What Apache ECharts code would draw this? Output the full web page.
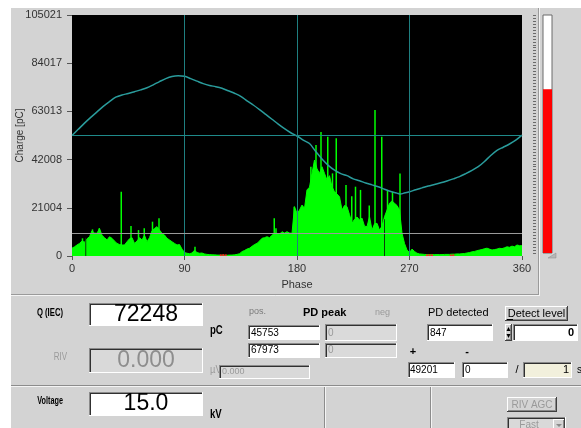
<!DOCTYPE html>
<html>
<head>
<meta charset="utf-8">
<script src="https://cdn.jsdelivr.net/npm/echarts@6/dist/echarts.min.js"></script>
<style>
html, body { margin: 0; padding: 0; background: #ffffff; }
#c { width: 581px; height: 428px; }
</style>
</head>
<body>
<div id="c"></div>
<script>
// Phase-resolved PD pattern: maximum charge per 2° phase bin (pC)
const phaseStep = 2;
const pdEnvelope = [
  3400, 4000, 4800, 5500, 6500, 6000, 7500, 8400, 11000, 10000,
  9900, 12000, 9000, 8000, 7000, 8400, 7700, 6500, 5500, 5000,
  4800, 4800, 6200, 7500, 8000, 5500, 6500, 8000, 7000, 9000,
  6200, 8000, 11000, 12000, 12800, 11300, 9900, 9150, 7700, 7000,
  6200, 5500, 4800, 5000, 3000, 1500, 1200, 1000, 1300, 2500,
  1500, 1200, 1300, 900, 700, 600, 500, 500, 400, 400,
  300, 300, 300, 400, 400, 500, 700, 1000, 1900, 2400,
  3000, 3400, 4200, 5000, 5500, 6500, 7700, 8000, 8400, 8000,
  9000, 10000, 9900, 9500, 10600, 10000, 10600, 10000, 9900, 21500,
  18600, 20000, 22200, 20800, 28800, 30000, 36000, 41800, 38000, 36000,
  38900, 36000, 33100, 35000, 30200, 28000, 27000, 25800, 20000, 22000,
  21500, 18000, 14250, 16000, 17000, 15700, 16500, 13000, 12800, 17100,
  11300, 14000, 14250, 11300, 13000, 17100, 20000, 23000, 24000, 23000,
  22000, 20000, 9900, 5500, 2600, 1500, 3000, 2000, 1200, 900,
  800, 700, 600, 600, 600, 600, 600, 600, 600, 700,
  700, 700, 800, 800, 900, 900, 1000, 1100, 1300, 1500,
  1800, 2000, 2300, 2600, 2800, 3200, 3400, 3000, 2600, 2800,
  3000, 3350, 3200, 3600, 4000, 3800, 4300, 4000, 4800, 4500,
  4500
];
// Single high pulses [phase °, charge pC]
const pdSpikes = [
  [8.6, 7700], [16.6, 11600], [22, 12070], [39.6, 28000], [47.4, 13100],
  [53.4, 11300], [58, 12070], [64.6, 14950], [69.8, 16400], [98.6, 4000],
  [162, 16400], [163.4, 12070], [178, 21500], [188.7, 28800], [191.3, 38900],
  [195.4, 48400], [199.4, 54000], [204.8, 52000], [208.6, 36000], [211.6, 51300],
  [219.4, 30900], [224, 26000], [227, 30200], [231, 28800], [238, 22000],
  [242.6, 63600], [248, 52000], [252.6, 28800], [256.6, 28000], [262.6, 36000]
];
// Negative-polarity pulses
const pdNegative = [
  [119, 700], [121, 800], [123, 700], [284, 700], [286, 800], [288, 700], [303, 600], [305, 700]
];
// Overlapping dark traces
const pdDark = [[11.4, 8000], [250.4, 16000]];

// Reference (test voltage) trace, scaled to the charge axis
const refPhase = [0, 5, 10, 15, 20, 25, 30, 35, 40, 45, 50, 55, 60, 65, 70, 75, 80, 85, 90, 95,
  100, 105, 110, 115, 120, 125, 130, 135, 140, 145, 150, 155, 160, 165, 170, 175, 180, 185, 190, 195,
  200, 205, 210, 215, 220, 225, 230, 235, 240, 245, 250, 255, 260, 263, 265, 270, 275, 280, 285, 290,
  295, 300, 305, 310, 315, 320, 325, 330, 335, 340, 345, 350, 355, 360];
const refCharge = [52500, 55200, 57900, 60400, 62800, 65200, 67300, 69200, 70200, 70800, 71600, 72400, 73300, 74600, 76000, 77300, 78200, 78500, 78300, 77300,
  76200, 75100, 74300, 73800, 73100, 72000, 70900, 69600, 67600, 65800, 63800, 61700, 59600, 57500, 55500, 53700, 52300, 50500, 49000, 45500,
  42300, 39500, 37400, 35900, 35000, 33600, 32800, 31800, 31000, 30200, 29100, 28100, 27400, 27000, 27300, 28000, 28900, 29700, 30500, 31200,
  31900, 32700, 33600, 34600, 35900, 37300, 38900, 41200, 43800, 46000, 47400, 48800, 50500, 52700];

const chargeTicks = [0, 21004, 42008, 63013, 84017, 105021];
const chargeMax = 105021;
const phaseTicks = [0, 90, 180, 270, 360];
const cursorPhases = [90, 180, 270];
const zeroLevel = 52510.5;
const detectLevel = 10000;

// Readouts
const qIec = 72248;
const rivValue = '0.000';
const voltageKv = '15.0';
const posPeaks = ['45753', '67973'];
const negPeaks = ['0', '0'];
const pdDetected = '847';
const detectLevelValue = '0';
const pdPlus = '49201';
const pdMinus = '0';
const pdWindow = '1';

const FONT = '"Liberation Sans", Arial, sans-serif';

function txt(x, y, s, opt, sx) {
  return { type: 'text', x: x, y: y, silent: true, z: 50, scaleX: sx || 1,
    style: Object.assign({ text: s, font: '11px ' + FONT, fill: '#000', align: 'left', verticalAlign: 'middle' }, opt || {}) };
}
function hl(x1, x2, y, c) {
  return { type: 'line', silent: true, z: 50, shape: { x1: x1, y1: y, x2: x2, y2: y }, style: { stroke: c, lineWidth: 1 } };
}
function vl(x, y1, y2, c) {
  return { type: 'line', silent: true, z: 50, shape: { x1: x, y1: y1, x2: x, y2: y2 }, style: { stroke: c, lineWidth: 1 } };
}
function rect(x1, y1, x2, y2, fill) {
  return { type: 'rect', silent: true, z: 49, shape: { x: x1, y: y1, width: x2 - x1, height: y2 - y1 }, style: { fill: fill } };
}
// sunken entry field
function field(x1, y1, x2, y2, fill) {
  return [
    rect(x1, y1, x2, y2, fill),
    hl(x1, x2, y1 + 0.5, '#8a8a8a'), vl(x1 + 0.5, y1, y2, '#8a8a8a'),
    hl(x1 + 1, x2 - 1, y1 + 1.5, '#303030'), vl(x1 + 1.5, y1 + 1, y2 - 1, '#303030'),
    hl(x1, x2, y2 - 0.5, '#ffffff'), vl(x2 - 0.5, y1, y2, '#ffffff')
  ];
}
// raised button
function button(x1, y1, x2, y2) {
  return [
    rect(x1, y1, x2, y2, '#d4d4d4'),
    hl(x1, x2, y1 + 0.5, '#ffffff'), vl(x1 + 0.5, y1, y2, '#ffffff'),
    hl(x1, x2, y2 - 0.5, '#404040'), vl(x2 - 0.5, y1, y2, '#404040'),
    hl(x1 + 1, x2 - 1, y2 - 1.5, '#888888'), vl(x2 - 1.5, y1 + 1, y2 - 1, '#888888')
  ];
}

const ui = [].concat(
  // window margins
  [rect(0, 0, 581, 8, '#ffffff'), rect(0, 0, 11, 428, '#ffffff')],
  // chart panel edges
  [hl(11, 539, 294.5, '#9a9a9a'), hl(11, 540, 295.5, '#f4f4f4'),
   vl(538.5, 8, 295, '#9a9a9a'), vl(539.5, 8, 296, '#f4f4f4')],
  // lower separators
  [hl(11, 581, 385.5, '#8c8c8c'), hl(11, 581, 386.5, '#f4f4f4'),
   vl(324.5, 387, 428, '#8c8c8c'), vl(325.5, 387, 428, '#f4f4f4'),
   vl(430.5, 387, 428, '#8c8c8c'), vl(431.5, 387, 428, '#f4f4f4')],
  // Q (IEC)
  [txt(63, 313, 'Q (IEC)', { font: 'bold 11px ' + FONT, align: 'right' }, 0.7)],
  field(89, 303, 203, 326, '#ffffff'),
  [txt(146, 315, String(qIec), { font: '23px ' + FONT, align: 'center' }),
   txt(210, 331, 'pC', { font: 'bold 12px ' + FONT }, 0.8)],
  // RIV
  [txt(67, 357, 'RIV', { font: '10px ' + FONT, align: 'right', fill: '#9a9a9a' }, 0.8)],
  field(89, 348, 203, 373, '#d9d9d9'),
  [txt(146, 361, rivValue, { font: '23px ' + FONT, align: 'center', fill: '#8e8e8e' }),
   txt(210, 370, 'µV', { font: '11px ' + FONT, fill: '#9a9a9a' }, 0.85)],
  field(219, 365, 310, 379, '#d9d9d9'),
  [txt(222, 372, rivValue, { font: '9px ' + FONT, fill: '#9a9a9a' })],
  // Voltage
  [txt(63, 401, 'Voltage', { font: 'bold 11px ' + FONT, align: 'right' }, 0.66)],
  field(89, 392, 203, 416, '#ffffff'),
  [txt(146, 404, voltageKv, { font: '23px ' + FONT, align: 'center' }),
   txt(210, 415, 'kV', { font: 'bold 12px ' + FONT }, 0.8)],
  // PD peak
  [txt(249, 312, 'pos.', { font: '9px ' + FONT, fill: '#7a7a7a' }),
   txt(303, 313, 'PD peak', { font: 'bold 11px ' + FONT }),
   txt(375, 313, 'neg', { font: '9px ' + FONT, fill: '#9a9a9a' })],
  field(248, 325, 320, 340, '#ffffff'),
  [txt(251, 333, posPeaks[0], { font: '10px ' + FONT })],
  field(248, 343, 320, 358, '#ffffff'),
  [txt(251, 350, posPeaks[1], { font: '10px ' + FONT })],
  field(325, 324, 397, 341, '#dadada'),
  [txt(328, 333, negPeaks[0], { font: '10px ' + FONT, fill: '#9a9a9a' })],
  field(325, 343, 397, 358, '#dadada'),
  [txt(328, 350, negPeaks[1], { font: '10px ' + FONT, fill: '#9a9a9a' })],
  // PD detected
  [txt(428, 313, 'PD detected', { font: '11px ' + FONT })],
  field(427, 324, 493, 341, '#ffffff'),
  [txt(430, 333, pdDetected, { font: '10px ' + FONT })],
  button(505, 306, 568, 321),
  [txt(536.5, 314, 'Detect level', { font: '11px ' + FONT, align: 'center' }),
   hl(507, 513, 319.5, '#000')],
  button(505, 324, 512, 341),
  [{ type: 'polygon', silent: true, z: 51, shape: { points: [[506.5, 331], [510.5, 331], [508.5, 327]] }, style: { fill: '#000' } },
   { type: 'polygon', silent: true, z: 51, shape: { points: [[506.5, 334], [510.5, 334], [508.5, 338]] }, style: { fill: '#000' } }],
  field(513, 324, 578, 341, '#ffffff'),
  [txt(574, 333, detectLevelValue, { font: 'bold 11px ' + FONT, align: 'right' })],
  [txt(413, 352, '+', { font: 'bold 11px ' + FONT, align: 'center' }),
   txt(467, 352, '-', { font: 'bold 11px ' + FONT, align: 'center' })],
  field(408, 362, 455, 378, '#ffffff'),
  [txt(410, 370, pdPlus, { font: '10px ' + FONT })],
  field(462, 362, 508, 378, '#ffffff'),
  [txt(465, 370, pdMinus, { font: '10px ' + FONT })],
  [txt(517, 370, '/', { font: '11px ' + FONT, align: 'center' })],
  field(523, 362, 572, 378, '#f2f0dc'),
  [txt(569, 370, pdWindow, { font: '11px ' + FONT, align: 'right' }),
   txt(577, 370, 's', { font: '10px ' + FONT })],
  // RIV AGC / filter
  button(507, 397, 557, 412),
  [txt(532, 405, 'RIV AGC', { font: '10px ' + FONT, align: 'center', fill: '#9a9a9a' })],
  field(507, 417, 566, 432, '#d9d9d9'),
  button(553, 419, 565, 432),
  [txt(529, 425, 'Fast', { font: '10px ' + FONT, align: 'center', fill: '#9a9a9a' }),
   { type: 'polygon', silent: true, z: 51, shape: { points: [[556, 424], [562, 424], [559, 427]] }, style: { fill: '#8a8a8a' } }],
  // level meter pointer
  [{ type: 'polygon', silent: true, z: 51, shape: { points: [[548, 258], [556, 258], [556, 253]] }, style: { fill: '#b8b8b8', stroke: '#8a8a8a', lineWidth: 0.5 } }]
);

const chart = echarts.init(document.getElementById('c'), null, { renderer: 'canvas' });

chart.setOption({
  animation: false,
  backgroundColor: '#d3d3d3',
  textStyle: { fontFamily: FONT },
  grid: [
    { left: 72, top: 15, width: 450, height: 241, show: true, backgroundColor: '#000000', borderWidth: 0,
      containLabel: false, outerBoundsMode: 'none' },
    { left: 543, top: 15, width: 9, height: 238, show: true, borderColor: '#6a6a6a', borderWidth: 1, backgroundColor: '#ffffff',
      containLabel: false, outerBoundsMode: 'none' }
  ],
  xAxis: [
    {
      gridIndex: 0, type: 'value', min: 0, max: 360, interval: 90,
      name: 'Phase', nameLocation: 'middle', nameGap: 23, nameMoveOverlap: false,
      nameTextStyle: { color: '#333', fontSize: 11, fontFamily: FONT },
      axisLine: { show: false },
      axisTick: { show: true, length: 4, lineStyle: { color: '#555' } },
      axisLabel: { color: '#333', fontSize: 11, margin: 7, fontFamily: FONT },
      splitLine: { show: false }
    },
    { gridIndex: 1, type: 'category', data: ['Q'], show: false }
  ],
  yAxis: [
    {
      gridIndex: 0, type: 'value', min: 0, max: chargeMax,
      name: 'Charge [pC]', nameLocation: 'middle', nameGap: 47, nameMoveOverlap: false,
      nameTextStyle: { color: '#333', fontSize: 10, fontFamily: FONT },
      axisLine: { show: false },
      axisTick: { show: true, length: 5, customValues: chargeTicks, lineStyle: { color: '#555' } },
      axisLabel: { color: '#333', fontSize: 11, margin: 10, customValues: chargeTicks, fontFamily: FONT,
        formatter: function (v) { return String(Math.round(v)); } },
      splitLine: { show: false }
    },
    { gridIndex: 1, type: 'value', min: 0, max: chargeMax, show: false },
    {
      gridIndex: 1, type: 'value', min: 0, max: 100, interval: 1.25, position: 'left', offset: 7,
      axisLine: { show: false },
      axisTick: { show: true, length: 3, lineStyle: { color: '#6a6a6a' } },
      axisLabel: { show: false },
      splitLine: { show: false }
    }
  ],
  series: [
    {
      // cursor and level lines
      type: 'line', xAxisIndex: 0, yAxisIndex: 0, data: [], z: 1, silent: true,
      markLine: {
        silent: true, symbol: 'none', animation: false,
        label: { show: false },
        data: cursorPhases.map(function (p) { return { xAxis: p, lineStyle: { color: '#1f7f80', width: 1, type: 'solid' } }; })
          .concat([
            { yAxis: zeroLevel, lineStyle: { color: '#1f8a8a', width: 1, type: 'solid' } },
            { yAxis: detectLevel, lineStyle: { color: '#9a9a9a', width: 1, type: 'solid' } }
          ])
      }
    },
    {
      name: 'PD', type: 'line', xAxisIndex: 0, yAxisIndex: 0, z: 2, silent: true,
      data: pdEnvelope.map(function (v, i) { return [i * phaseStep, v]; }),
      symbol: 'none', lineStyle: { color: '#00ff00', width: 1 },
      areaStyle: { color: '#00ff00', opacity: 1 }
    },
    {
      name: 'PD pulses', type: 'bar', xAxisIndex: 0, yAxisIndex: 0, z: 3, silent: true,
      data: pdSpikes, barWidth: 1.5, itemStyle: { color: '#00ff00' }
    },
    {
      name: 'PD dark', type: 'bar', xAxisIndex: 0, yAxisIndex: 0, z: 3, silent: true, barGap: '-100%',
      data: pdDark, barWidth: 1, itemStyle: { color: '#0a3d0a' }
    },
    {
      name: 'PD negative', type: 'bar', xAxisIndex: 0, yAxisIndex: 0, z: 3, silent: true, barGap: '-100%',
      data: pdNegative, barWidth: 2, itemStyle: { color: '#ff2020' }
    },
    {
      name: 'Reference', type: 'line', xAxisIndex: 0, yAxisIndex: 0, z: 4, silent: true,
      data: refPhase.map(function (p, i) { return [p, refCharge[i]]; }),
      symbol: 'none', smooth: 0.3, lineStyle: { color: '#2a9c9c', width: 1.5 }
    },
    {
      name: 'Q meter', type: 'bar', xAxisIndex: 1, yAxisIndex: 1, silent: true,
      data: [qIec], barWidth: '100%', itemStyle: { color: '#ff0000' }
    }
  ],
  graphic: { elements: ui }
});
</script>
</body>
</html>
